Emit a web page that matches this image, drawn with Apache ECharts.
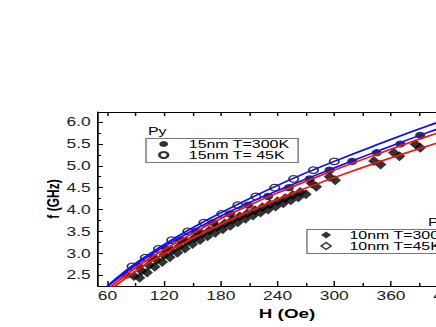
<!DOCTYPE html>
<html>
<head>
<meta charset="utf-8">
<script src="https://cdn.jsdelivr.net/npm/echarts@6/dist/echarts.min.js"></script>
<style>
html,body{margin:0;padding:0;width:436px;height:327px;overflow:hidden;background:#fff;}
#c{width:340px;height:327px;transform:scaleX(1.45);transform-origin:0 0;}
</style>
</head>
<body>
<div id="c"></div>
<script>
// ---- data (H in Oe, f in GHz) ----
const py15_300K = [[80,2.5],[93,2.7],[107,2.9],[122,3.1],[138,3.3],[154,3.5],[172,3.7],[190,3.9],[209,4.1],[230,4.3],[252,4.5],[274,4.7],[295,4.9],[319,5.1],[345,5.3],[370,5.5],[391,5.7]];
const py15_45K = [[86,2.7],[100,2.9],[114,3.1],[128,3.3],[145,3.5],[162,3.7],[181,3.9],[198,4.1],[217,4.3],[237,4.5],[257,4.7],[278,4.9],[300,5.1]];
const py10_300K = [[88,2.48],[96,2.60],[104,2.73],[112,2.85],[120,2.96],[128,3.06],[136,3.16],[144,3.26],[152,3.35],[160,3.44],[168,3.52],[176,3.60],[184,3.68],[192,3.76],[200,3.84],[208,3.91],[216,3.98],[224,4.05],[232,4.12],[240,4.19],[248,4.26],[256,4.33],[264,4.40],[276,4.60],[295,4.75],[342,5.11],[363,5.30],[386,5.49]];
const py10_45K = [[94,2.44],[102,2.56],[110,2.69],[118,2.80],[126,2.91],[134,3.01],[142,3.11],[150,3.21],[158,3.30],[166,3.39],[174,3.47],[182,3.55],[190,3.63],[198,3.71],[206,3.79],[214,3.86],[222,3.93],[230,4.00],[238,4.07],[246,4.14],[254,4.21],[262,4.28],[270,4.35],[281,4.52],[301,4.67],[349,5.03],[369,5.22],[391,5.41]];
// fitted curves
const fitH = [60,80,100,130,160,200,250,300,350,400,450];
const fitBlueUpper = [2.25,2.61,2.92,3.33,3.70,4.14,4.65,5.10,5.52,5.92,6.29];
const fitBlueLower = [2.24,2.57,2.88,3.28,3.63,4.06,4.52,4.95,5.37,5.77,6.15];
const fitRedUpper  = [2.17,2.51,2.82,3.21,3.57,4.00,4.47,4.90,5.30,5.68,6.03];
const fitRedLower  = [2.11,2.44,2.73,3.11,3.45,3.86,4.32,4.73,5.11,5.46,5.79];
const xLabels = [60,120,180,240,300,360,420];
const xMinor = [90,150,210,270,330,390,450];
const xTop = [60,90,120,150,180,210,240,270,300,330,360,390,420,450];
const yLabels = [2.5,3.0,3.5,4.0,4.5,5.0,5.5,6.0];
const yMinor = [2.75,3.25,3.75,4.25,4.75,5.25,5.75];
const names = ['15nm T=300K','15nm T= 45K','10nm T=300K','10nm T=45K'];

const FONT = 'Liberation Sans, Arial, sans-serif';
const XMIN = 50, XMAX = 450, YMIN = 2.25, YMAX = 6.23;
const pair = (ys) => fitH.map((h,i)=>[h,ys[i]]);

const chart = echarts.init(document.getElementById('c'), null, {renderer:'svg'});
const baseX = {type:'value', min:XMIN, max:XMAX, splitLine:{show:false}};
const baseY = {type:'value', min:YMIN, max:YMAX, splitLine:{show:false}};
const lineSer = (ys, color) => ({type:'line', data:pair(ys), smooth:true, showSymbol:false, z:5,
  lineStyle:{color:color, width:1.6}, itemStyle:{color:color}, silent:true});

chart.setOption({
  animation:false,
  grid:{left:67.6, top:112, width:260.7, height:174},
  xAxis:[
    Object.assign({}, baseX, {position:'bottom', name:'H (Oe)', nameLocation:'middle', nameGap:19,
      nameTextStyle:{fontFamily:FONT, fontSize:13, fontWeight:'bold', color:'#000'},
      axisLine:{lineStyle:{color:'#000', width:1.2}},
      axisTick:{inside:true, length:5, customValues:xLabels, lineStyle:{color:'#000'}},
      axisLabel:{customValues:xLabels, margin:4, fontFamily:FONT, fontSize:12, color:'#222'}}),
    Object.assign({}, baseX, {position:'bottom', axisLine:{show:false},
      axisTick:{inside:true, length:3, customValues:xMinor, lineStyle:{color:'#000'}},
      axisLabel:{show:false}}),
    Object.assign({}, baseX, {position:'top', axisLine:{show:true, lineStyle:{color:'#000', width:1.2}},
      axisTick:{inside:true, length:4, customValues:xTop, lineStyle:{color:'#000'}},
      axisLabel:{show:false}})
  ],
  yAxis:[
    Object.assign({}, baseY, {position:'left', name:'f (GHz)', nameLocation:'middle', nameGap:25,
      nameMoveOverlap:false,
      nameTextStyle:{fontFamily:FONT, fontSize:12, fontWeight:'bold', color:'#000'},
      axisLine:{show:true, lineStyle:{color:'#000', width:1.2}},
      axisTick:{inside:true, length:3.4, customValues:yLabels, lineStyle:{color:'#000'}},
      axisLabel:{customValues:yLabels, margin:5, fontFamily:FONT, fontSize:12, color:'#222',
        formatter:(v)=>Number(v).toFixed(1)}}),
    Object.assign({}, baseY, {position:'left', axisLine:{show:false},
      axisTick:{inside:true, length:2, customValues:yMinor, lineStyle:{color:'#000'}},
      axisLabel:{show:false}})
  ],
  legend:[
    {data:[names[0], names[1]], orient:'vertical', left:100.7, top:138.5,
     itemWidth:7, itemHeight:6, itemGap:0, padding:[0,6,2,8.2],
     borderColor:'#777', borderWidth:1,
     textStyle:{fontFamily:FONT, fontSize:11, color:'#000', lineHeight:11, padding:[0,0,0,8.8]}},
    {data:[names[2], {name:names[3], itemStyle:{color:'#fff', borderColor:'#000', borderWidth:1.2}}],
     orient:'vertical', left:211.7, top:229.5,
     itemWidth:7, itemHeight:7, itemGap:0, padding:[0,6,2,9.1],
     borderColor:'#777', borderWidth:1,
     textStyle:{fontFamily:FONT, fontSize:11, color:'#000', lineHeight:11, padding:[0,0,0,7.6]}}
  ],
  graphic:[
    {type:'text', left:102, top:126, style:{text:'Py', fontFamily:FONT, fontSize:11, fill:'#000'}},
    {type:'text', left:295.2, top:216.5, style:{text:'Py', fontFamily:FONT, fontSize:11, fill:'#000'}}
  ],
  series:[
    {name:names[0], type:'scatter', data:py15_300K, symbol:'circle', symbolSize:7, z:3,
     itemStyle:{color:'#000'}},
    {name:names[1], type:'scatter', data:py15_45K, symbol:'circle', symbolSize:6.5, z:3,
     itemStyle:{color:'#fff', borderColor:'#000', borderWidth:1.2}},
    {name:names[2], type:'scatter', data:py10_300K, symbol:'diamond', symbolSize:[8,10], z:3,
     itemStyle:{color:'#000'}},
    {name:names[3], type:'scatter', data:py10_45K, symbol:'diamond', symbolSize:[8,10], z:3,
     itemStyle:{color:'#000'}},
    lineSer(fitBlueUpper, '#1010ff'),
    lineSer(fitBlueLower, '#1010ff'),
    lineSer(fitRedUpper, '#ff1010'),
    lineSer(fitRedLower, '#ff1010')
  ]
});
</script>
</body>
</html>
